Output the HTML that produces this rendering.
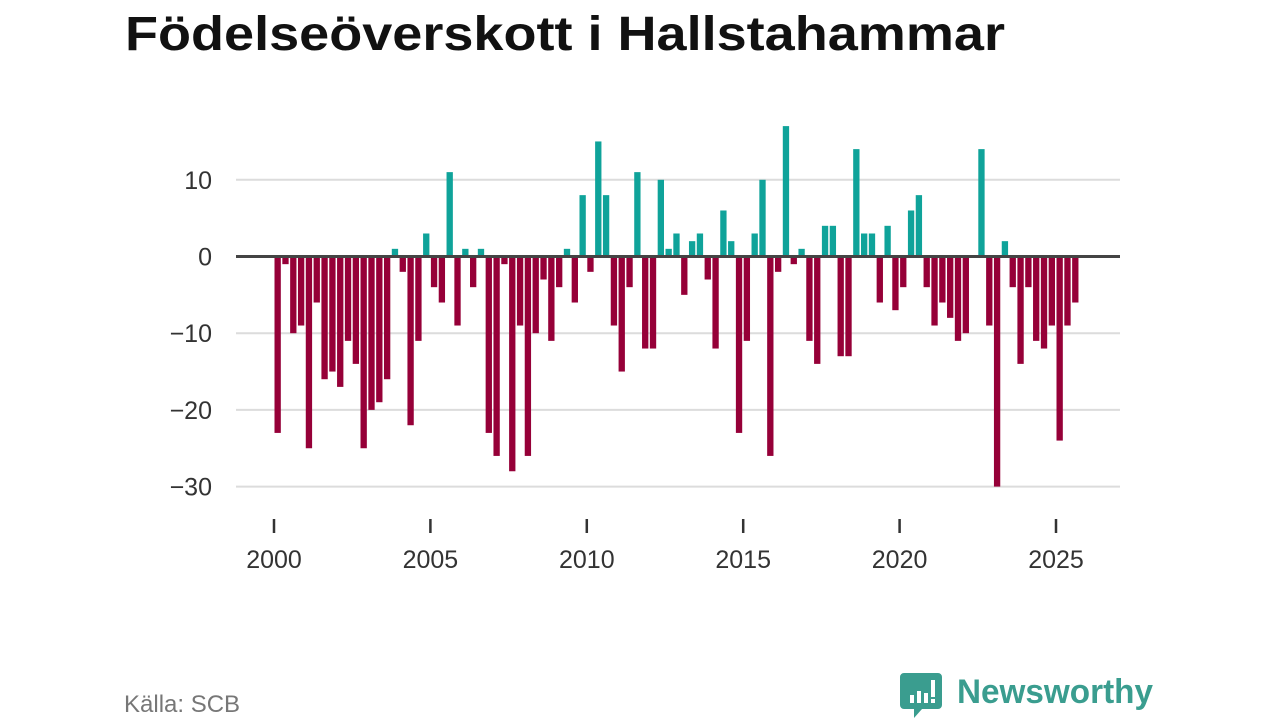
<!DOCTYPE html>
<html><head><meta charset="utf-8">
<style>
html,body{margin:0;padding:0;background:#fff;}
svg{display:block;font-family:"Liberation Sans","DejaVu Sans",sans-serif;}
</style></head>
<body>
<svg id="chart" width="1280" height="720" viewBox="0 0 1280 720">
  <text x="125" y="50" font-size="48" font-weight="bold" fill="#111" textLength="880" lengthAdjust="spacingAndGlyphs">Födelseöverskott i Hallstahammar</text>
  <g id="grid"></g>
  <g id="bars"></g>
  <g id="xaxis"></g>
  <text x="124" y="712" font-size="24" fill="#777">Källa: SCB</text>
  <g>
    <path d="M904 673 h34 a4 4 0 0 1 4 4 v28 a4 4 0 0 1 -4 4 h-16 l-8 9 v-9 h-10 a4 4 0 0 1 -4 -4 v-28 a4 4 0 0 1 4 -4z" fill="#3a9d8f"/>
    <rect x="910" y="695" width="4" height="8" fill="#fff"/>
    <rect x="917" y="691" width="4" height="12" fill="#fff"/>
    <rect x="924" y="693" width="4" height="10" fill="#fff"/>
    <rect x="931" y="680" width="4" height="17" fill="#fff"/>
    <rect x="931" y="699" width="4" height="4" fill="#fff"/>
    <text x="957" y="703" font-size="34" font-weight="bold" fill="#3a9d8f" textLength="196" lengthAdjust="spacingAndGlyphs">Newsworthy</text>
  </g>
</svg>
<script>
const years = [2000,2005,2010,2015,2020,2025];
const yTicks = [10,0,-10,-20,-30];
const values = [
-23,-1,-10,-9, -25,-6,-16,-15, -17,-11,-14,-25, -20,-19,-16,1,
-2,-22,-11,3, -4,-6,11,-9, 1,-4,1,-23, -26,-1,-28,-9,
-26,-10,-3,-11, -4,1,-6,8, -2,15,8,-9, -15,-4,11,-12,
-12,10,1,3, -5,2,3,-3, -12,6,2,-23, -11,3,10,-26,
-2,17,-1,1, -11,-14,4,4, -13,-13,14,3, 3,-6,4,-7,
-4,6,8,-4, -9,-6,-8,-11, -10,0,14,-9, -30,2,-4,-14,
-4,-11,-12,-9, -24,-9,-6
];
const NS="http://www.w3.org/2000/svg";
function xScale(t){return 274 + (t-2000)*31.28;}
function yScale(v){return 256.5 - v*7.67;}
const grid=document.getElementById('grid');
yTicks.forEach(v=>{
  const y=yScale(v);
  if(v!==0){
    const l=document.createElementNS(NS,'line');
    l.setAttribute('x1',236);l.setAttribute('x2',1120);l.setAttribute('y1',y);l.setAttribute('y2',y);
    l.setAttribute('stroke','#dcdcdc');l.setAttribute('stroke-width',2);
    
    
    grid.appendChild(l);
  }
  const t=document.createElementNS(NS,'text');
  t.setAttribute('x',212);t.setAttribute('y',y+9);t.setAttribute('text-anchor','end');
  t.setAttribute('font-size',25);t.setAttribute('fill','#333');
  t.textContent = v<0 ? '\u2212'+Math.abs(v) : String(v);
  
  
  grid.appendChild(t);
});
const bars=document.getElementById('bars');
const step=31.28/4;
values.forEach((v,i)=>{
  const x=xScale(2000+i/4)+0.5;
  const y0=yScale(0), y1=yScale(v);
  const r=document.createElementNS(NS,'rect');
  r.setAttribute('x',x);r.setAttribute('width',step-1.5);
  r.setAttribute('y',Math.min(y0,y1));r.setAttribute('height',Math.abs(y1-y0));
  r.setAttribute('fill',v>=0?'#0fa39a':'#960038');
  
  
  bars.appendChild(r);
});
const zl=document.createElementNS(NS,'line');
zl.setAttribute('x1',236);zl.setAttribute('x2',1120);zl.setAttribute('y1',yScale(0));zl.setAttribute('y2',yScale(0));
zl.setAttribute('stroke','#444');zl.setAttribute('stroke-width',3);


bars.appendChild(zl);
const xa=document.getElementById('xaxis');
years.forEach(yr=>{
  const x=xScale(yr);
  const l=document.createElementNS(NS,'line');
  l.setAttribute('x1',x);l.setAttribute('x2',x);l.setAttribute('y1',519);l.setAttribute('y2',533);
  l.setAttribute('stroke','#333');l.setAttribute('stroke-width',2.5);
  
  
  xa.appendChild(l);
  const t=document.createElementNS(NS,'text');
  t.setAttribute('x',x);t.setAttribute('y',568);t.setAttribute('text-anchor','middle');
  t.setAttribute('font-size',25);t.setAttribute('fill','#333');
  t.textContent=String(yr);
  
  
  xa.appendChild(t);
});
</script>
</body></html>
